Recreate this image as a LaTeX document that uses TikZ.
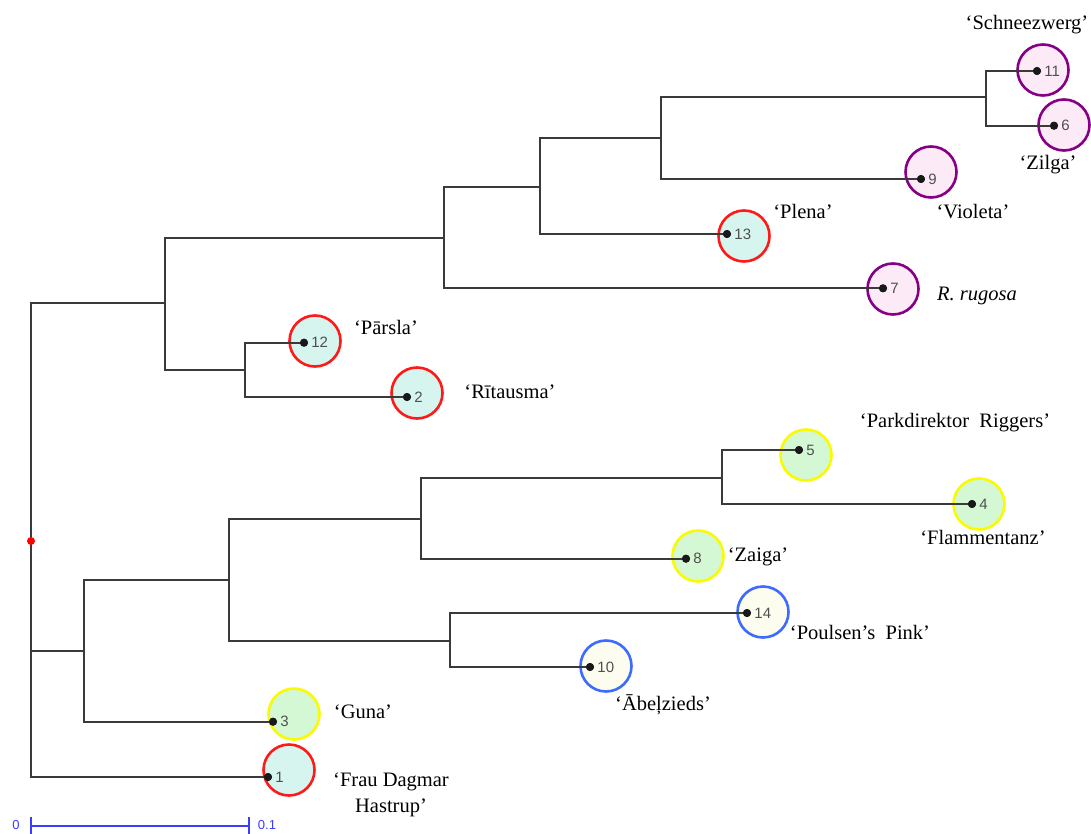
\documentclass[tikz,border=0pt]{standalone}
\usepackage{fontspec}
\setmainfont{Liberation Serif}
\newfontfamily\numfont{Liberation Sans}
\definecolor{edgec}{HTML}{3A3A3A}
\definecolor{redC}{HTML}{FF1A1A}
\definecolor{redF}{HTML}{D6F5EE}
\definecolor{purC}{HTML}{850085}
\definecolor{purF}{HTML}{FCEAF6}
\definecolor{yelC}{HTML}{FAFA00}
\definecolor{yelF}{HTML}{D4F8D4}
\definecolor{bluC}{HTML}{3D6BFF}
\definecolor{bluF}{HTML}{FDFDEF}
\definecolor{numc}{HTML}{505050}
\definecolor{scalec}{HTML}{3C3CFF}
\begin{document}
\begin{tikzpicture}[x=1pt,y=-1pt,
  edge/.style={draw=edgec, line width=2pt},
  leafc/.style={circle, minimum size=51pt, inner sep=0pt, line width=2.6pt},
  redleaf/.style={leafc, draw=redC, fill=redF},
  purleaf/.style={leafc, draw=purC, fill=purF},
  yelleaf/.style={leafc, draw=yelC, fill=yelF},
  bluleaf/.style={leafc, draw=bluC, fill=bluF},
  dotn/.style={circle, fill=black!90, inner sep=0pt, minimum size=8pt},
  num/.style={anchor=west, font=\numfont\fontsize{15}{15}\selectfont, text=numc, inner sep=0pt},
  lab/.style={font=\fontsize{20.5}{26}\selectfont, inner sep=0pt, align=center},
  scalebar/.style={draw=scalec, line width=1.6pt},
  scalelab/.style={font=\numfont\fontsize{13}{13}\selectfont, text=scalec, inner sep=0pt}
]
\useasboundingbox (0,0) rectangle (1091,834);

% circles
\node[purleaf] (c11) at (1043,70) {};
\node[purleaf] (c6) at (1064,125) {};
\node[purleaf] (c9) at (931,172) {};
\node[redleaf] (c13) at (744,236) {};
\node[purleaf] (c7) at (893,289) {};
\node[redleaf] (c12) at (315,341) {};
\node[redleaf] (c2) at (417,393) {};
\node[yelleaf] (c5) at (806,455) {};
\node[yelleaf] (c4) at (979,504) {};
\node[yelleaf] (c8) at (698,556) {};
\node[bluleaf] (c14) at (763,612) {};
\node[bluleaf] (c10) at (606,666) {};
\node[yelleaf] (c3) at (294,714) {};
\node[redleaf] (c1) at (289,770) {};

% leaf dots
\node[dotn] (d11) at (1037,71) {};
\node[dotn] (d6) at (1054,125.7) {};
\node[dotn] (d9) at (921,179) {};
\node[dotn] (d13) at (727,234) {};
\node[dotn] (d7) at (883,288.3) {};
\node[dotn] (d12) at (304,342.7) {};
\node[dotn] (d2) at (407,397) {};
\node[dotn] (d5) at (799,450) {};
\node[dotn] (d4) at (972,504) {};
\node[dotn] (d8) at (686,558.7) {};
\node[dotn] (d14) at (747,613) {};
\node[dotn] (d10) at (590,667) {};
\node[dotn] (d3) at (273,721.7) {};
\node[dotn] (d1) at (268,777) {};

% internal nodes
\coordinate (R) at (31,541);
\coordinate (A) at (165,303);
\coordinate (D) at (245,369.5);
\coordinate (C) at (444,237.7);
\coordinate (E) at (540,187);
\coordinate (F) at (661,138);
\coordinate (G) at (986,97);
\coordinate (B) at (84,650.7);
\coordinate (H) at (229,580);
\coordinate (I) at (421,519);
\coordinate (K) at (722,478);
\coordinate (J) at (450,640.7);

% edges
\draw[edge] (R) |- (A);
\draw[edge] (R) |- (B);
\draw[edge] (R) |- (d1.center);
\draw[edge] (A) |- (C);
\draw[edge] (A) |- (D);
\draw[edge] (D) |- (d12.center);
\draw[edge] (D) |- (d2.center);
\draw[edge] (C) |- (E);
\draw[edge] (C) |- (d7.center);
\draw[edge] (E) |- (F);
\draw[edge] (E) |- (d13.center);
\draw[edge] (F) |- (G);
\draw[edge] (F) |- (d9.center);
\draw[edge] (G) |- (d11.center);
\draw[edge] (G) |- (d6.center);
\draw[edge] (B) |- (H);
\draw[edge] (B) |- (d3.center);
\draw[edge] (H) |- (I);
\draw[edge] (H) |- (J);
\draw[edge] (I) |- (K);
\draw[edge] (I) |- (d8.center);
\draw[edge] (K) |- (d5.center);
\draw[edge] (K) |- (d4.center);
\draw[edge] (J) |- (d14.center);
\draw[edge] (J) |- (d10.center);

% redraw dots on top
\foreach \d in {d11,d6,d9,d13,d7,d12,d2,d5,d4,d8,d14,d10,d3,d1}{
  \fill[black!90] (\d.center) circle (4pt);
}
% root marker
\node[circle, fill=red, inner sep=0pt, minimum size=8pt] (root) at (R) {};

% numbers
\node[num] (n11) at ([xshift=3pt]d11.east) {11};
\node[num] (n6) at ([xshift=3pt]d6.east) {6};
\node[num] (n9) at ([xshift=3pt]d9.east) {9};
\node[num] (n13) at ([xshift=3pt]d13.east) {13};
\node[num] (n7) at ([xshift=3pt]d7.east) {7};
\node[num] (n12) at ([xshift=3pt]d12.east) {12};
\node[num] (n2) at ([xshift=3pt]d2.east) {2};
\node[num] (n5) at ([xshift=3pt]d5.east) {5};
\node[num] (n4) at ([xshift=3pt]d4.east) {4};
\node[num] (n8) at ([xshift=3pt]d8.east) {8};
\node[num] (n14) at ([xshift=3pt]d14.east) {14};
\node[num] (n10) at ([xshift=3pt]d10.east) {10};
\node[num] (n3) at ([xshift=3pt]d3.east) {3};
\node[num] (n1) at ([xshift=3pt]d1.east) {1};

% labels
\node[lab] (l11) at (1027,25) {‘Schneezwerg’};
\node[lab] (l6) at (1048,165) {‘Zilga’};
\node[lab] (l9) at (973,212) {‘Violeta’};
\node[lab] (l13) at (803,211) {‘Plena’};
\node[lab] (l7) at (977,296) {\itshape R. rugosa};
\node[lab] (l12) at (386,327) {‘Pārsla’};
\node[lab] (l2) at (510,392) {‘Rītausma’};
\node[lab] (l5) at (955,423) {‘Parkdirektor\enspace Riggers’};
\node[lab] (l4) at (983,537) {‘Flammentanz’};
\node[lab] (l8) at (758,557) {‘Zaiga’};
\node[lab] (l14) at (860,632) {‘Poulsen’s\enspace Pink’};
\node[lab] (l10) at (663,705) {‘Ābeļzieds’};
\node[lab] (l3) at (363,712) {‘Guna’};
\node[lab] (l1) at (391,795) {‘Frau Dagmar\\Hastrup’};

% scale bar
\coordinate (s0) at (31,826);
\coordinate (s1) at (249,826);
\draw[scalebar] (s0) -- (s1);
\draw[scalebar] ([yshift=-8pt]s0) -- ([yshift=9pt]s0);
\draw[scalebar] ([yshift=-8pt]s1) -- ([yshift=9pt]s1);
\node[scalelab] (sl0) at (16,825) {0};
\node[scalelab] (sl1) at (267,825) {0.1};
\end{tikzpicture}
\end{document}
